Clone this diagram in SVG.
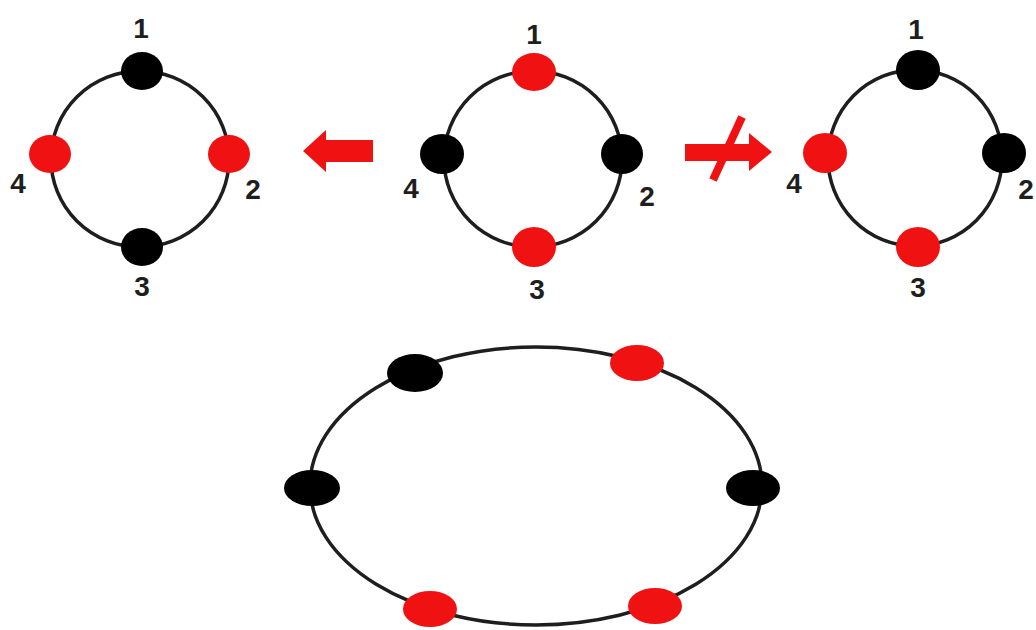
<svg xmlns="http://www.w3.org/2000/svg" width="1036" height="630" viewBox="0 0 1036 630">
<style>
.ring{fill:none;stroke:#1e1e1e;stroke-width:3.5}
.r{fill:#f01212}
.b{fill:#000}
.lbl{font-family:"Liberation Sans",Arial,sans-serif;font-weight:bold;font-size:28px;fill:#1e1e1e;text-anchor:middle}
.arrow{fill:#f01212}
</style>
<rect width="1036" height="630" fill="#fff"/>
<g id="ring-left">
<ellipse class="ring" cx="140" cy="159" rx="89" ry="88"/>
<g id="L1"><ellipse class="b" cx="142" cy="71" rx="21" ry="19"/><text class="lbl" x="141" y="38">1</text></g>
<g id="L2"><ellipse class="r" cx="229" cy="154" rx="21" ry="19"/><text class="lbl" x="253" y="199">2</text></g>
<g id="L3"><ellipse class="b" cx="142" cy="247" rx="21" ry="19"/><text class="lbl" x="142" y="296">3</text></g>
<g id="L4"><ellipse class="r" cx="50" cy="154" rx="21" ry="19"/><text class="lbl" x="18" y="193">4</text></g>
</g>
<g id="ring-middle">
<ellipse class="ring" cx="533" cy="159" rx="89" ry="88"/>
<g id="M1"><ellipse class="r" cx="534" cy="72" rx="22" ry="19"/><text class="lbl" x="534" y="44">1</text></g>
<g id="M2"><ellipse class="b" cx="622" cy="154" rx="21" ry="20"/><text class="lbl" x="647" y="206">2</text></g>
<g id="M3"><ellipse class="r" cx="534" cy="247" rx="22" ry="20"/><text class="lbl" x="537" y="299">3</text></g>
<g id="M4"><ellipse class="b" cx="442" cy="154" rx="22" ry="20"/><text class="lbl" x="411" y="198">4</text></g>
</g>
<g id="ring-right">
<ellipse class="ring" cx="915" cy="158" rx="87" ry="88"/>
<g id="R1"><ellipse class="b" cx="918" cy="70" rx="22" ry="20"/><text class="lbl" x="916" y="39">1</text></g>
<g id="R2"><ellipse class="b" cx="1004" cy="153" rx="22" ry="20"/><text class="lbl" x="1026" y="199">2</text></g>
<g id="R3"><ellipse class="r" cx="918" cy="247" rx="22" ry="20"/><text class="lbl" x="918" y="297">3</text></g>
<g id="R4"><ellipse class="r" cx="825" cy="153" rx="22" ry="20"/><text class="lbl" x="794" y="193">4</text></g>
</g>
<g id="ring-bottom">
<ellipse class="ring" cx="536" cy="486" rx="226" ry="139"/>
<g id="B1"><ellipse class="b" cx="415" cy="373" rx="28" ry="19"/></g>
<g id="B2"><ellipse class="r" cx="637" cy="363" rx="27" ry="18"/></g>
<g id="B3"><ellipse class="b" cx="753" cy="488" rx="27" ry="18"/></g>
<g id="B4"><ellipse class="r" cx="655" cy="606" rx="27" ry="18"/></g>
<g id="B5"><ellipse class="r" cx="430" cy="609" rx="27" ry="18"/></g>
<g id="B6"><ellipse class="b" cx="312" cy="488" rx="28" ry="18"/></g>
</g>
<g id="connectors">
<polygon class="arrow" points="303,151 326,130 326,140 373,140 373,162 326,162 326,172"/>
<polygon class="arrow" points="685,144 749,144 749,133 772,152 749,171 749,161 685,161"/>
<line x1="742" y1="117" x2="713" y2="180" stroke="#f01212" stroke-width="8"/>
</g>
</svg>
